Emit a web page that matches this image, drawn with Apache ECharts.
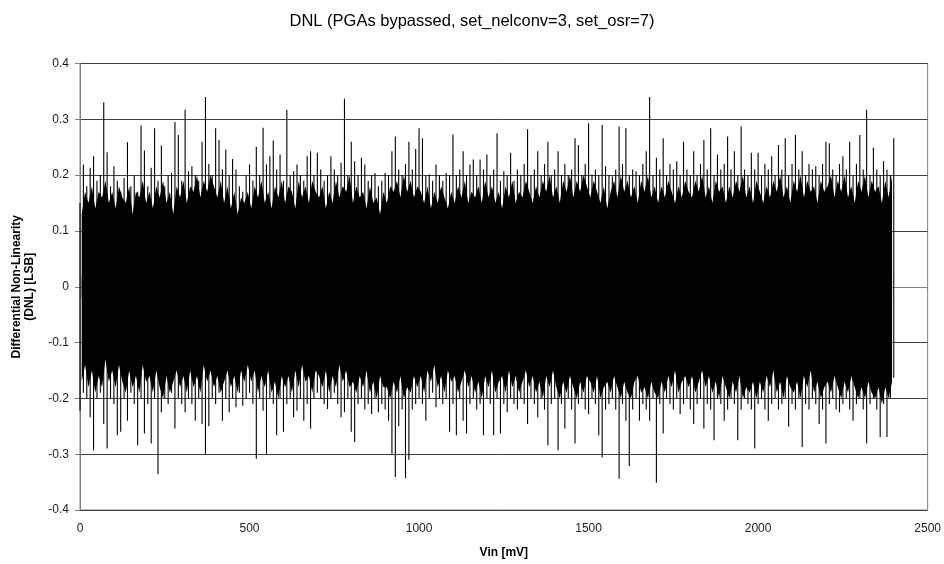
<!DOCTYPE html>
<html>
<head>
<meta charset="utf-8">
<script src="https://cdn.jsdelivr.net/npm/echarts@6/dist/echarts.min.js"></script>
<style>
html,body{margin:0;padding:0;background:#fff;}
#chart{width:944px;height:564px;}
</style>
</head>
<body>
<div id="chart"></div>
<script>
// Vin sample spacing (mV): spikes at 0,10,...,2400; dense band at 5,15,...,2395
const spikeStepMv = 10;
const coreOffsetMv = 5;

// Upper extreme of DNL at each 10 mV step, 0..2400 mV
const spikeTop = [
  0.15,0.219,0.18,0.213,0.234,0.19,0.2,0.33,0.241,0.18,
  0.216,0.19,0.17,0.195,0.259,0.18,0.2,0.17,0.289,0.244,
  0.18,0.213,0.284,0.19,0.253,0.18,0.2,0.204,0.295,0.272,
  0.19,0.317,0.207,0.216,0.2,0.19,0.26,0.34,0.22,0.2,
  0.284,0.263,0.21,0.246,0.2,0.229,0.21,0.18,0.17,0.2,
  0.219,0.19,0.251,0.2,0.285,0.219,0.234,0.262,0.21,0.237,
  0.19,0.317,0.2,0.207,0.219,0.2,0.19,0.234,0.243,0.2,
  0.24,0.21,0.19,0.2,0.234,0.21,0.2,0.222,0.337,0.2,
  0.26,0.225,0.2,0.231,0.219,0.19,0.2,0.204,0.18,0.19,
  0.204,0.2,0.243,0.269,0.21,0.2,0.22,0.26,0.21,0.247,
  0.284,0.266,0.2,0.201,0.19,0.219,0.2,0.19,0.204,0.2,
  0.273,0.2,0.21,0.243,0.2,0.219,0.228,0.2,0.228,0.21,
  0.237,0.2,0.21,0.275,0.19,0.207,0.2,0.24,0.19,0.21,
  0.2,0.22,0.282,0.2,0.21,0.243,0.2,0.22,0.26,0.2,
  0.21,0.243,0.2,0.22,0.2,0.21,0.266,0.254,0.2,0.22,
  0.293,0.201,0.21,0.2,0.29,0.216,0.2,0.198,0.21,0.287,
  0.22,0.284,0.2,0.21,0.207,0.2,0.22,0.243,0.34,0.2,
  0.231,0.21,0.266,0.2,0.22,0.21,0.225,0.2,0.26,0.21,
  0.2,0.243,0.2,0.22,0.263,0.21,0.284,0.2,0.237,0.21,
  0.22,0.269,0.21,0.243,0.2,0.287,0.21,0.2,0.24,0.21,
  0.24,0.2,0.22,0.21,0.234,0.2,0.254,0.21,0.266,0.2,
  0.22,0.272,0.21,0.243,0.2,0.22,0.21,0.216,0.2,0.22,
  0.26,0.257,0.21,0.2,0.22,0.234,0.21,0.26,0.2,0.22,
  0.272,0.21,0.317,0.2,0.249,0.21,0.2,0.225,0.21,0.2,
  0.266
];

// Lower extreme of DNL at each 10 mV step, 0..2400 mV
const spikeBot = [
  -0.222,-0.19,-0.2,-0.234,-0.293,-0.2,-0.19,-0.246,-0.29,-0.2,
  -0.21,-0.266,-0.26,-0.2,-0.24,-0.19,-0.21,-0.284,-0.2,-0.263,
  -0.21,-0.281,-0.2,-0.336,-0.225,-0.2,-0.21,-0.19,-0.254,-0.2,
  -0.21,-0.225,-0.2,-0.21,-0.24,-0.2,-0.246,-0.299,-0.25,-0.2,
  -0.21,-0.19,-0.24,-0.2,-0.225,-0.2,-0.216,-0.19,-0.213,-0.2,
  -0.19,-0.21,-0.308,-0.2,-0.222,-0.299,-0.2,-0.21,-0.266,-0.2,
  -0.26,-0.21,-0.2,-0.234,-0.222,-0.2,-0.24,-0.21,-0.254,-0.2,
  -0.19,-0.2,-0.21,-0.219,-0.2,-0.19,-0.21,-0.234,-0.225,-0.2,
  -0.26,-0.278,-0.21,-0.2,-0.22,-0.21,-0.228,-0.2,-0.225,-0.21,
  -0.22,-0.24,-0.299,-0.341,-0.25,-0.22,-0.343,-0.31,-0.22,-0.21,
  -0.2,-0.21,-0.24,-0.2,-0.19,-0.216,-0.2,-0.21,-0.2,-0.26,
  -0.21,-0.266,-0.2,-0.24,-0.263,-0.21,-0.2,-0.22,-0.21,-0.266,
  -0.2,-0.21,-0.266,-0.2,-0.263,-0.21,-0.225,-0.2,-0.21,-0.22,
  -0.2,-0.21,-0.246,-0.2,-0.21,-0.234,-0.2,-0.22,-0.284,-0.21,
  -0.2,-0.293,-0.21,-0.254,-0.2,-0.22,-0.281,-0.21,-0.2,-0.22,
  -0.228,-0.2,-0.21,-0.266,-0.306,-0.22,-0.21,-0.2,-0.22,-0.344,
  -0.21,-0.24,-0.321,-0.22,-0.2,-0.24,-0.21,-0.22,-0.24,-0.2,
  -0.351,-0.21,-0.263,-0.2,-0.21,-0.22,-0.2,-0.228,-0.21,-0.2,
  -0.22,-0.246,-0.21,-0.2,-0.254,-0.21,-0.22,-0.275,-0.2,-0.21,
  -0.24,-0.22,-0.2,-0.21,-0.275,-0.22,-0.2,-0.21,-0.22,-0.29,
  -0.21,-0.2,-0.22,-0.24,-0.21,-0.2,-0.22,-0.21,-0.2,-0.251,
  -0.21,-0.22,-0.2,-0.287,-0.21,-0.22,-0.2,-0.21,-0.246,-0.22,
  -0.281,-0.21,-0.2,-0.22,-0.225,-0.21,-0.2,-0.22,-0.24,-0.21,
  -0.2,-0.22,-0.281,-0.21,-0.2,-0.22,-0.269,-0.21,-0.269,-0.2,
  -0.163
];

// Dense (near-solid) band upper edge at 5,15,...,2395 mV
const coreTop = [
  0.13,0.17,0.15,0.18,0.14,0.17,0.16,0.19,0.15,0.17,
  0.14,0.18,0.16,0.15,0.18,0.13,0.17,0.16,0.19,0.15,
  0.17,0.14,0.18,0.16,0.19,0.15,0.17,0.13,0.18,0.16,
  0.19,0.15,0.18,0.17,0.2,0.16,0.19,0.17,0.2,0.18,
  0.16,0.19,0.15,0.18,0.14,0.17,0.13,0.16,0.15,0.17,
  0.14,0.18,0.16,0.19,0.15,0.17,0.14,0.18,0.16,0.19,
  0.15,0.18,0.17,0.14,0.19,0.16,0.18,0.15,0.19,0.17,
  0.16,0.18,0.14,0.17,0.15,0.19,0.16,0.18,0.17,0.2,
  0.15,0.18,0.16,0.17,0.14,0.18,0.15,0.16,0.13,0.17,
  0.15,0.18,0.17,0.19,0.16,0.2,0.17,0.19,0.16,0.18,
  0.17,0.15,0.18,0.14,0.17,0.15,0.18,0.16,0.14,0.17,
  0.15,0.18,0.16,0.19,0.15,0.17,0.16,0.18,0.15,0.19,
  0.16,0.18,0.15,0.17,0.14,0.18,0.16,0.19,0.15,0.17,
  0.16,0.19,0.17,0.15,0.18,0.16,0.19,0.17,0.2,0.16,
  0.18,0.15,0.19,0.17,0.2,0.16,0.19,0.17,0.2,0.18,
  0.16,0.19,0.17,0.15,0.18,0.14,0.17,0.19,0.16,0.2,
  0.17,0.19,0.16,0.18,0.15,0.19,0.17,0.2,0.16,0.18,
  0.15,0.18,0.16,0.19,0.17,0.15,0.18,0.16,0.19,0.17,
  0.16,0.19,0.17,0.2,0.16,0.18,0.15,0.19,0.17,0.18,
  0.15,0.18,0.16,0.19,0.17,0.2,0.16,0.18,0.15,0.19,
  0.17,0.15,0.18,0.16,0.19,0.17,0.2,0.16,0.18,0.15,
  0.19,0.17,0.2,0.16,0.19,0.17,0.18,0.15,0.19,0.17,
  0.18,0.2,0.16,0.19,0.17,0.2,0.16,0.18,0.15,0.19,
  0.17,0.2,0.16,0.19,0.17,0.18,0.15,0.19,0.16,0.2
];

// Dense (near-solid) band lower edge at 5,15,...,2395 mV
const coreBot = [
  -0.17,-0.14,-0.18,-0.15,-0.19,-0.16,-0.18,-0.13,-0.17,-0.15,
  -0.18,-0.14,-0.17,-0.19,-0.15,-0.18,-0.16,-0.19,-0.14,-0.17,
  -0.16,-0.19,-0.15,-0.18,-0.2,-0.16,-0.19,-0.17,-0.15,-0.18,
  -0.16,-0.19,-0.15,-0.18,-0.16,-0.19,-0.14,-0.17,-0.15,-0.18,
  -0.16,-0.19,-0.17,-0.15,-0.18,-0.16,-0.19,-0.15,-0.17,-0.14,
  -0.17,-0.15,-0.19,-0.16,-0.18,-0.15,-0.19,-0.17,-0.2,-0.16,
  -0.18,-0.16,-0.19,-0.15,-0.18,-0.14,-0.17,-0.16,-0.19,-0.15,
  -0.16,-0.18,-0.15,-0.19,-0.16,-0.18,-0.14,-0.17,-0.15,-0.18,
  -0.17,-0.19,-0.16,-0.18,-0.15,-0.19,-0.17,-0.2,-0.16,-0.18,
  -0.18,-0.2,-0.17,-0.19,-0.16,-0.2,-0.18,-0.19,-0.16,-0.18,
  -0.16,-0.19,-0.15,-0.17,-0.14,-0.18,-0.16,-0.19,-0.15,-0.17,
  -0.16,-0.19,-0.17,-0.15,-0.18,-0.16,-0.19,-0.17,-0.2,-0.16,
  -0.18,-0.15,-0.19,-0.17,-0.16,-0.19,-0.15,-0.18,-0.16,-0.19,
  -0.17,-0.15,-0.18,-0.16,-0.19,-0.17,-0.2,-0.16,-0.18,-0.15,
  -0.18,-0.2,-0.17,-0.19,-0.16,-0.18,-0.2,-0.17,-0.19,-0.16,
  -0.17,-0.19,-0.16,-0.2,-0.18,-0.17,-0.19,-0.16,-0.18,-0.2,
  -0.17,-0.19,-0.2,-0.17,-0.16,-0.19,-0.18,-0.2,-0.17,-0.19,
  -0.2,-0.17,-0.19,-0.16,-0.18,-0.15,-0.19,-0.17,-0.16,-0.18,
  -0.16,-0.19,-0.17,-0.15,-0.18,-0.16,-0.19,-0.17,-0.2,-0.16,
  -0.18,-0.2,-0.17,-0.19,-0.16,-0.2,-0.18,-0.19,-0.17,-0.2,
  -0.17,-0.19,-0.16,-0.18,-0.15,-0.19,-0.17,-0.2,-0.16,-0.18,
  -0.19,-0.17,-0.2,-0.16,-0.18,-0.15,-0.19,-0.17,-0.2,-0.18,
  -0.17,-0.19,-0.16,-0.18,-0.2,-0.17,-0.19,-0.16,-0.18,-0.2,
  -0.18,-0.2,-0.17,-0.19,-0.2,-0.18,-0.21,-0.18,-0.2,-0.17
];

const titleText = 'DNL (PGAs bypassed, set_nelconv=3, set_osr=7)';
const xName = 'Vin [mV]';
const yName = 'Differential Non-Linearity\n(DNL) [LSB]';

const spikeData = spikeTop.map((t, i) => [i * spikeStepMv, t, spikeBot[i]]);
const coreTopData = coreTop.map((v, i) => [coreOffsetMv + i * spikeStepMv, v]);
const coreBotData = coreBot.map((v, i) => [coreOffsetMv + i * spikeStepMv, v]);

const FONT = "'Liberation Sans',Arial,sans-serif";

const chart = echarts.init(document.getElementById('chart'), null, {renderer: 'canvas'});
chart.setOption({
  animation: false,
  backgroundColor: '#fff',
  title: {
    text: titleText,
    left: 'center',
    top: 8,
    textStyle: {fontFamily: FONT, fontSize: 16.5, fontWeight: 'normal', color: '#000'}
  },
  grid: {left: 80, right: 14, top: 63.5, bottom: 51, show: true, borderColor: '#808080', borderWidth: 1, backgroundColor: '#fff'},
  xAxis: {
    type: 'value', min: 0, max: 2500, interval: 500,
    name: xName, nameLocation: 'middle', nameGap: 37,
    nameTextStyle: {fontFamily: FONT, fontSize: 12, fontWeight: 'bold', color: '#000'},
    axisLine: {show: true, lineStyle: {color: '#808080', width: 1}},
    axisTick: {show: true, length: 4, lineStyle: {color: '#808080'}},
    axisLabel: {fontFamily: FONT, fontSize: 12, color: '#222', margin: 13,
      formatter: v => String(v)},
    splitLine: {show: false}
  },
  yAxis: {
    type: 'value', min: -0.4, max: 0.4, interval: 0.1,
    name: yName, nameLocation: 'middle', nameGap: 44, nameRotate: 90,
    nameTextStyle: {fontFamily: FONT, fontSize: 12, fontWeight: 'bold', color: '#000', lineHeight: 13},
    axisLine: {show: true, lineStyle: {color: '#808080', width: 1}},
    axisTick: {show: true, length: 5, lineStyle: {color: '#808080'}},
    axisLabel: {fontFamily: FONT, fontSize: 12, color: '#222', margin: 11,
      formatter: v => (Math.abs(v) < 1e-9 ? '0' : v.toFixed(1))},
    splitLine: {show: true, lineStyle: {color: '#404040', width: 1}}
  },
  series: [
    {
      type: 'line', data: coreTopData, showSymbol: false, z: 3,
      lineStyle: {width: 0, color: '#000'}, areaStyle: {color: '#000', opacity: 1, origin: -0.02}
    },
    {
      type: 'line', data: coreBotData, showSymbol: false, z: 3,
      lineStyle: {width: 0, color: '#000'}, areaStyle: {color: '#000', opacity: 1, origin: 0.02}
    },
    {
      type: 'custom', data: spikeData, z: 4,
      encode: {x: 0, y: [1, 2]},
      renderItem: function (params, api) {
        const p1 = api.coord([api.value(0), api.value(1)]);
        const p2 = api.coord([api.value(0), api.value(2)]);
        return {type: 'line', shape: {x1: p1[0], y1: p1[1], x2: p2[0], y2: p2[1]},
          style: {stroke: '#000', lineWidth: 1.1}};
      }
    }
  ]
});
</script>
</body>
</html>
